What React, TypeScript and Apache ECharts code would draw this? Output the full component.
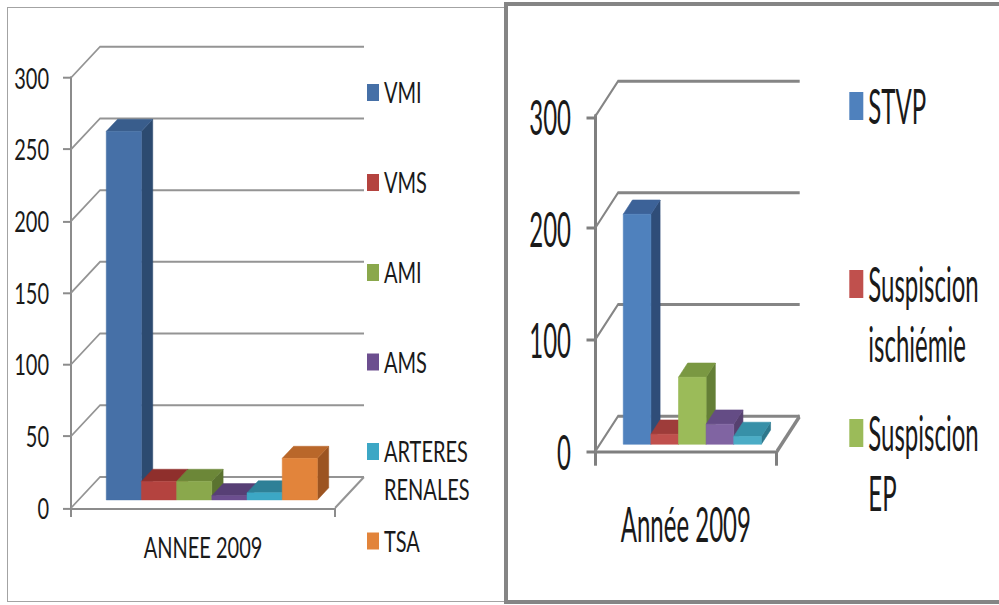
import React, { useEffect, useRef } from 'react';
import * as echarts from 'echarts';

// ---------- data ----------
const leftCategories = ['ANNEE 2009'];
const leftSeriesNames = ['VMI', 'VMS', 'AMI', 'AMS', 'ARTERES RENALES', 'TSA'];
const leftValues = [257, 13, 13, 3, 5, 29];
const leftTicks = [0, 50, 100, 150, 200, 250, 300];
const leftLegendLines = [['VMI'], ['VMS'], ['AMI'], ['AMS'], ['ARTERES', 'RENALES'], ['TSA']];

const rightCategories = ['Année 2009'];
const rightSeriesNames = ['STVP', 'Suspiscion ischiémie', 'Suspiscion EP', 'Série 4', 'Série 5'];
const rightValues = [206, 9, 60, 18, 7];
const rightTicks = [0, 100, 200, 300];
const rightLegendNames = ['STVP', 'Suspiscion ischiémie', 'Suspiscion EP'];
const rightLegendLines = [['STVP'], ['Suspiscion', 'ischiémie'], ['Suspiscion', 'EP']];

// ---------- styles ----------
const FONT = 'Lato, "Open Sans", "Noto Sans", sans-serif';
const TEXT = '#1a1a1a';

const LEFT_PALETTE = [
  { front: '#4670A7', top: '#395D8C', side: '#2C4A70' },
  { front: '#B4433F', top: '#8F2F2C', side: '#7C2A27' },
  { front: '#8AA84C', top: '#6C8738', side: '#5B7330' },
  { front: '#6C4E8F', top: '#573F75', side: '#4A3464' },
  { front: '#3CA7C5', top: '#2E8097', side: '#276E82' },
  { front: '#E2843B', top: '#B9672A', side: '#9C5421' },
];
const RIGHT_PALETTE = [
  { front: '#4F81BD', top: '#3C6298', side: '#2F4D78' },
  { front: '#C0504D', top: '#9E3C3A', side: '#883432' },
  { front: '#9BBB59', top: '#7A9842', side: '#647F36' },
  { front: '#8064A2', top: '#644C85', side: '#56406F' },
  { front: '#4BACC6', top: '#3790A8', side: '#2D778C' },
];

function makeOption(c: any) {
  const dy = c.dyPhys / c.k;
  const gridWidth = c.gridPhys / c.k;

  const wallSeries = {
    type: 'custom',
    name: '__wall',
    silent: true,
    z: 1,
    data: c.ticks.map((v: number) => [0, v]),
    encode: { x: 0, y: 1 },
    renderItem: (params: any, api: any) => {
      const cs = params.coordSys;
      const v = api.value(1);
      const p = api.coord([0, v]);
      const x0 = cs.x;
      const y = p[1];
      const children: any[] = [
        {
          type: 'polyline',
          shape: { points: [[x0, y], [x0 + c.dx, y + dy], [x0 + cs.width + c.dx, y + dy]] },
          style: { stroke: c.gridColor, lineWidth: gridWidth, fill: null },
        },
      ];
      if (v === 0) {
        children.push({
          type: 'line',
          shape: { x1: x0 + cs.width, y1: y, x2: x0 + cs.width + c.dx, y2: y + dy },
          style: { stroke: c.gridColor, lineWidth: c.gridPhys * 0.85 },
        });
      }
      return { type: 'group', children };
    },
  };

  const barSeries = c.names.map((name: string, i: number) => ({
    type: 'custom',
    name,
    z: 2,
    itemStyle: { color: c.palette[i].front },
    data: [[0, c.values[i]]],
    encode: { x: 0, y: 1 },
    renderItem: (params: any, api: any) => {
      const base = api.coord([api.value(0), 0]);
      const top = api.coord([api.value(0), api.value(1)]);
      const band = api.size([1, 0])[0];
      const bw = band * c.barFrac;
      const sx = c.f1 * c.dx;
      const sy = c.f1 * dy;
      const xa = base[0] - band / 2 + band * c.gapLeft + i * bw + sx;
      const xb = xa + bw;
      const yb = base[1] + sy;
      const yt = top[1] + sy;
      const ddx = c.f2 * c.dx;
      const ddy = c.f2 * dy;
      const col = c.palette[i];
      return {
        type: 'group',
        children: [
          {
            type: 'polygon',
            shape: { points: [[xb, yt], [xb + ddx, yt + ddy], [xb + ddx, yb + ddy], [xb, yb]] },
            style: { fill: col.side, stroke: col.side, lineWidth: 0.4 },
          },
          {
            type: 'polygon',
            shape: { points: [[xa, yt], [xb, yt], [xb + ddx, yt + ddy], [xa + ddx, yt + ddy]] },
            style: { fill: col.top, stroke: col.top, lineWidth: 0.4 },
          },
          {
            type: 'rect',
            shape: { x: xa, y: yt, width: bw, height: yb - yt },
            style: { fill: col.front, stroke: col.front, lineWidth: 0.4 },
          },
        ],
      };
    },
  }));

  const legends = c.legendNames.map((name: string, idx: number) => {
    const lines: string[] = c.legendLines[idx];
    const n = lines.length;
    const lh = c.lineHeight;
    const H = n > 1 ? (2 * n - 1) * lh : lh;
    const text = n > 1 ? '\n'.repeat(n - 1) + lines.join('\n') : lines[0];
    return {
      data: [name],
      orient: 'vertical',
      left: c.legendLeft,
      top: c.legendCenters[idx] / c.k - H / 2,
      padding: 0,
      itemWidth: c.iconW,
      itemHeight: c.iconHPhys / c.k,
      itemGap: 0,
      icon: 'rect',
      selectedMode: false,
      formatter: () => text,
      textStyle: { fontFamily: FONT, fontSize: c.fontSize, lineHeight: lh, color: TEXT },
    };
  });

  return {
    animation: false,
    grid: {
      left: c.gridLeft,
      top: c.gridTopPhys / c.k,
      width: c.gridWidth,
      height: (c.gridBottomPhys - c.gridTopPhys) / c.k,
    },
    legend: legends,
    xAxis: {
      type: 'category',
      data: c.categories,
      axisLine: { show: true, lineStyle: { color: c.axisColor, width: c.axisPhys / c.k } },
      axisTick: { show: true, length: c.xTickPhys / c.k, lineStyle: { color: c.axisColor, width: c.axisPhys } },
      axisLabel: { margin: c.xLabelMargin, fontFamily: FONT, fontSize: c.fontSize, color: TEXT },
      splitLine: { show: false },
    },
    yAxis: {
      type: 'value',
      min: 0,
      max: c.max,
      interval: c.interval,
      axisLine: { show: true, lineStyle: { color: c.axisColor, width: c.axisPhys } },
      axisTick: { show: true, length: c.yTickLen, lineStyle: { color: c.axisColor, width: c.axisPhys / c.k } },
      axisLabel: { margin: c.yLabelMargin, fontFamily: FONT, fontSize: c.fontSize, color: TEXT },
      splitLine: { show: false },
    },
    series: [wallSeries, ...barSeries],
  };
}

const LEFT_K = 1.4;
const RIGHT_K = 2;
const LEFT_H = 432;
const RIGHT_H = 302;

const LEFT_CFG = {
  k: LEFT_K,
  gridLeft: 71,
  gridWidth: 264,
  gridTopPhys: 77.7,
  gridBottomPhys: 508,
  dx: 29,
  dyPhys: -31,
  f1: 0.26,
  f2: 0.39,
  gapLeft: 0.105,
  barFrac: 0.1333,
  categories: leftCategories,
  names: leftSeriesNames,
  values: leftValues,
  ticks: leftTicks,
  max: 300,
  interval: 50,
  palette: LEFT_PALETTE,
  fontSize: 20,
  lineHeight: 27,
  yLabelMargin: 22,
  xLabelMargin: 18,
  yTickLen: 8,
  xTickPhys: 9,
  axisColor: '#8c8c8c',
  axisPhys: 2,
  gridColor: '#949494',
  gridPhys: 2,
  legendNames: leftSeriesNames,
  legendLines: leftLegendLines,
  legendLeft: 367,
  legendCenters: [92.5, 182.5, 272.5, 362, 451.5, 541],
  iconW: 12,
  iconHPhys: 17,
};

const RIGHT_CFG = {
  k: RIGHT_K,
  gridLeft: 90,
  gridWidth: 181.7,
  gridTopPhys: 116.7,
  gridBottomPhys: 451.7,
  dx: 23,
  dyPhys: -35.5,
  f1: 0.21,
  f2: 0.4,
  gapLeft: 0.129,
  barFrac: 0.152,
  categories: rightCategories,
  names: rightSeriesNames,
  values: rightValues,
  ticks: rightTicks,
  max: 300,
  interval: 100,
  palette: RIGHT_PALETTE,
  fontSize: 24,
  lineHeight: 30,
  yLabelMargin: 24,
  xLabelMargin: 24,
  yTickLen: 8.5,
  xTickPhys: 14,
  axisColor: '#7f7f7f',
  axisPhys: 3,
  gridColor: '#858585',
  gridPhys: 3,
  legendNames: rightLegendNames,
  legendLines: rightLegendLines,
  legendLeft: 344.3,
  legendCenters: [106, 284, 433],
  iconW: 14,
  iconHPhys: 28,
};

export default function App() {
  const leftRef = useRef<HTMLDivElement>(null);
  const rightRef = useRef<HTMLDivElement>(null);

  useEffect(() => {
    const a = echarts.init(leftRef.current as HTMLDivElement, undefined, { renderer: 'svg' });
    a.setOption(makeOption(LEFT_CFG) as any);
    const b = echarts.init(rightRef.current as HTMLDivElement, undefined, { renderer: 'svg' });
    b.setOption(makeOption(RIGHT_CFG) as any);
    return () => {
      a.dispose();
      b.dispose();
    };
  }, []);

  return (
    <div
      style={{
        position: 'absolute',
        left: 0,
        top: 0,
        width: 999,
        height: 605,
        overflow: 'hidden',
        background: '#ffffff',
      }}
    >
      <div
        style={{
          position: 'absolute',
          left: 7,
          top: 7,
          width: 498,
          height: 595,
          border: '1.5px solid #a3a3a3',
          boxSizing: 'border-box',
        }}
      />
      <div
        ref={leftRef}
        style={{
          position: 'absolute',
          left: 0,
          top: 0,
          width: 505,
          height: LEFT_H,
          transform: `scaleY(${LEFT_K})`,
          transformOrigin: '0 0',
        }}
      />
      <div
        style={{
          position: 'absolute',
          left: 504,
          top: 2,
          width: 520,
          height: 602,
          border: '4px solid #858585',
          boxSizing: 'border-box',
        }}
      />
      <div
        ref={rightRef}
        style={{
          position: 'absolute',
          left: 505,
          top: 0,
          width: 494,
          height: RIGHT_H,
          transform: `scaleY(${RIGHT_K})`,
          transformOrigin: '0 0',
        }}
      />
    </div>
  );
}
